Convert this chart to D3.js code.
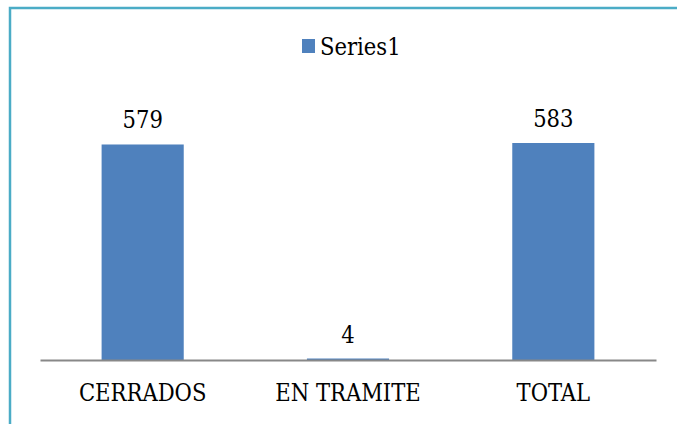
<!DOCTYPE html>
<html>
<head>
<meta charset="utf-8">
<script src="https://cdn.jsdelivr.net/npm/d3@7"></script>
<style>
  body { margin:0; background:#fff; }
</style>
</head>
<body>
<svg></svg>
<script>
var w=677;
var h=424;

var categories=["CERRADOS", "EN TRAMITE", "TOTAL"];
var values=[579, 4, 583];
var seriesName="Series1";

var barColor="#4f81bd";
var baseY=360;
var font="'DejaVu Serif Condensed', 'DejaVu Serif', serif";
var fsize="23.5px";

var svg=d3.select("svg").attr("width", w).attr("height", h);

// chart frame, only left and top edges show in the crop
svg.append("path")
  .attr("d", "M10,424 V8 H677")
  .attr("fill", "none")
  .attr("stroke", "#4bacc6")
  .attr("stroke-width", 2.5);

var x=d3.scaleBand()
  .domain(categories)
  .range([40, 656])
  .paddingInner(0.6)
  .paddingOuter(0.3);

var y=d3.scaleLinear()
  .domain([0, 583])
  .range([baseY, 143]);

svg.selectAll("rect.bar")
  .data(values)
  .enter()
  .append("rect")
  .attr("class", "bar")
  .attr("x", function(d,i){ return x(categories[i]); })
  .attr("y", function(d){ return y(d); })
  .attr("width", x.bandwidth())
  .attr("height", function(d){ return baseY-y(d); })
  .attr("fill", barColor);

// axis line
var axis=svg.append("g")
  .attr("transform", "translate(0,"+baseY+")")
  .call(d3.axisBottom(x).tickSize(0).tickPadding(24));
axis.select(".domain").attr("stroke", "#888").attr("stroke-width", 2);
axis.selectAll("text")
  .style("font-family", font)
  .style("font-size", fsize)
  .attr("fill", "#000");

svg.selectAll("text.val")
  .data(values)
  .enter()
  .append("text")
  .attr("class", "val")
  .attr("x", function(d,i){ return x(categories[i])+x.bandwidth()/2; })
  .attr("y", function(d){ return y(d)-16; })
  .attr("text-anchor", "middle")
  .style("font-family", font)
  .style("font-size", fsize)
  .text(function(d){ return d; });

// legend
var lg=svg.append("g").attr("transform", "translate(302,39)");
lg.append("rect").attr("width", 13).attr("height", 14).attr("fill", barColor);
lg.append("text").attr("x", 18).attr("y", 16)
  .style("font-family", font)
  .style("font-size", fsize)
  .text(seriesName);
</script>
</body>
</html>
